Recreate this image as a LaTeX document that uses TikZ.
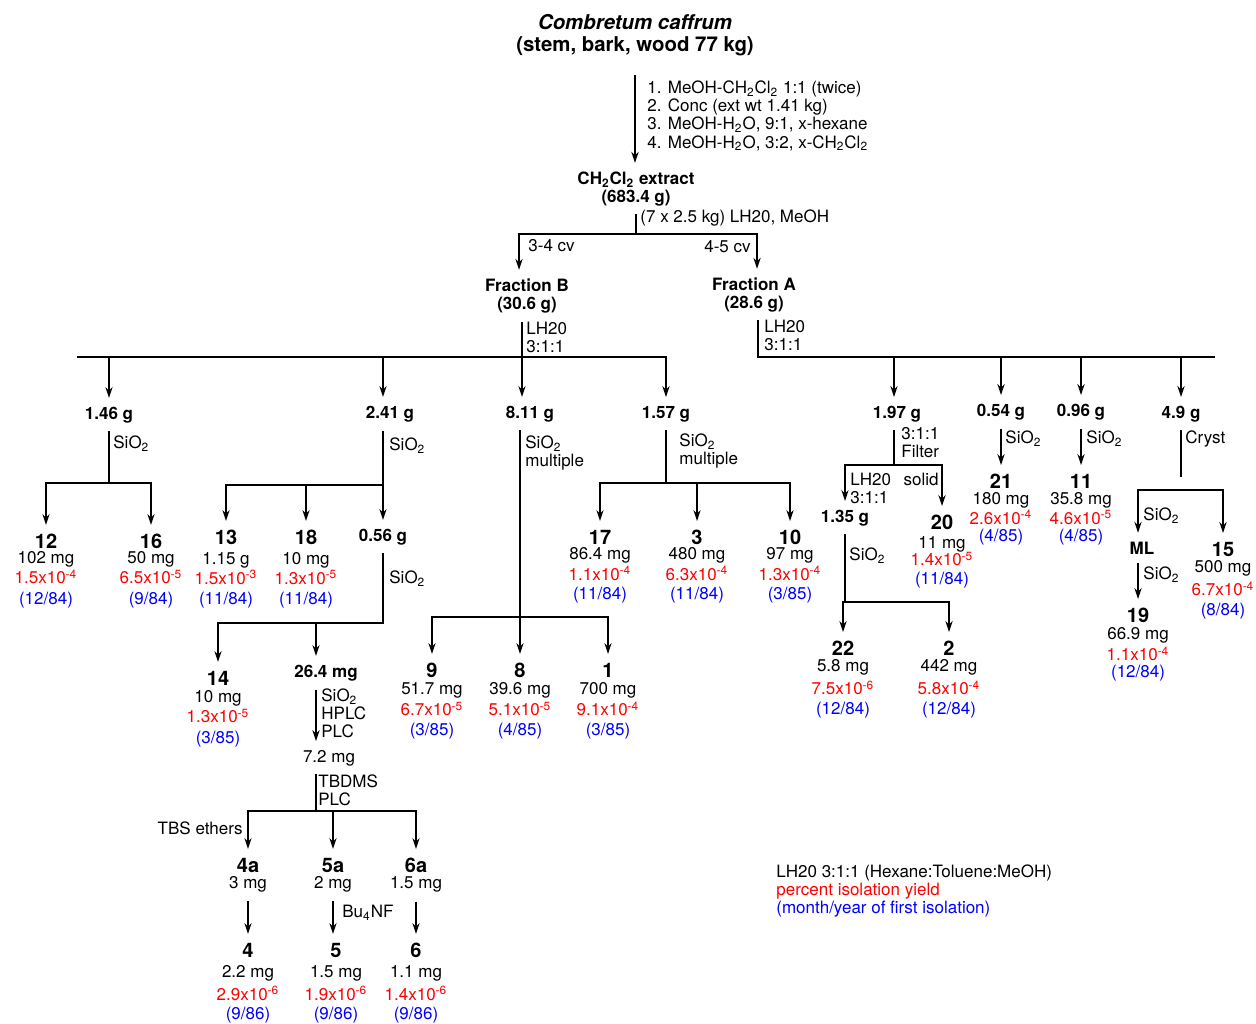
\documentclass[tikz,border=0pt]{standalone}
\usepackage{fontspec}
\setmainfont{TeX Gyre Heros}
\usepackage{xcolor}
\usetikzlibrary{arrows.meta}

\newcommand{\chcl}{CH\textsubscript{2}Cl\textsubscript{2}}
\newcommand{\sio}{SiO\textsubscript{2}}
\newcommand{\cnum}[1]{{\fontsize{10}{10}\selectfont\bfseries #1}}
\newcommand{\yld}[2]{\textcolor{red}{#1x10\textsuperscript{-#2}}}
\newcommand{\dte}[1]{\textcolor{blue}{(#1)}}

\begin{document}
\begin{tikzpicture}[
x=0.5pt, y=-0.5pt,
txt/.style={inner sep=0pt, outer ysep=4.5pt, align=center, font=\fontsize{8.5}{10}\selectfont},
wt/.style={txt, font=\fontsize{8.5}{9}\selectfont\bfseries},
cmpd/.style={txt, anchor=north},
lbl/.style={inner sep=0pt, anchor=west, align=left, font=\fontsize{8.5}{9}\selectfont},
arrow/.style={-{Stealth[length=5.5pt, width=3.6pt]}, line width=1pt},
conn/.style={line width=1pt, line cap=rect},
thinconn/.style={line width=0.6pt, line cap=rect}
]
\useasboundingbox (0,0) rectangle (1256,1023);

\node[txt, font=\fontsize{10.2}{11}\selectfont\bfseries] (plant) at (635,35) {\textit{Combretum caffrum}\\(stem, bark, wood 77 kg)};
\node[lbl, anchor=north west, font=\fontsize{8.5}{9.15}\selectfont] (cond_ext) at (647,80) {1. MeOH-\chcl{} 1:1 (twice)\\2. Conc (ext wt 1.41 kg)\\3. MeOH-H\textsubscript{2}O, 9:1, x-hexane\\4. MeOH-H\textsubscript{2}O, 3:2, x-\chcl};
\node[wt] (extract) at (636,189) {\chcl{} extract\\(683.4 g)};
\draw[arrow, shorten <=5pt] (plant) -- (plant |- extract.north);

\coordinate (split_b) at (519,234);
\coordinate (split_a) at (757,234);
\node[lbl] (cond_sep) at (640,218) {(7 x 2.5 kg) LH20, MeOH};
\node[lbl] (cv_b) at (528,246) {3-4 cv};
\node[lbl, anchor=east] (cv_a) at (751,247) {4-5 cv};
\node[wt] (frac_b) at (527,296) {Fraction B\\(30.6 g)};
\node[wt] (frac_a) at (754,295) {Fraction A\\(28.6 g)};
\draw[conn] (extract) -- (extract |- split_b);
\draw[conn] (split_b) -- (split_a);
\draw[arrow] (split_b) -- (split_b |- frac_b.north);
\draw[arrow] (split_a) -- (split_a |- frac_a.north);

\coordinate (bar_b) at (522,357);
\coordinate (bar_b_end) at (78,357);
\coordinate (bar_a) at (758,357);
\coordinate (bar_a_end) at (1214,357);
\node[lbl] (cond_b) at (526,337) {LH20\\3:1:1};
\node[lbl] (cond_a) at (764,335) {LH20\\3:1:1};

\node[wt] (w146) at (109,415) {1.46 g};
\node[wt] (w241) at (390,414) {2.41 g};
\node[wt] (w811) at (530,414) {8.11 g};
\node[wt] (w157) at (666,414) {1.57 g};
\node[wt] (w197) at (897,414) {1.97 g};
\node[wt] (w054) at (1001,412) {0.54 g};
\node[wt] (w096) at (1081,412) {0.96 g};
\node[wt] (w49) at (1181,414) {4.9 g};
\node[wt] (w056) at (383,537) {0.56 g};

\draw[conn] (bar_b_end) -- (w157 |- bar_b);
\draw[arrow] (frac_b.south -| bar_b) -- (w811.north -| bar_b);
\draw[arrow] (w146 |- bar_b) -- (w146);
\draw[arrow] (w056 |- bar_b) -- (w241.north -| w056);
\draw[arrow] (w157 |- bar_b) -- (w157);
\draw[conn] (frac_a.south -| bar_a) -- (bar_a) -- (bar_a_end);
\coordinate (bar197) at (894,465);
\draw[arrow] (bar197 |- bar_a) -- (w197.north -| bar197);
\draw[arrow] (w054 |- bar_a) -- (w054);
\draw[arrow] (w096 |- bar_a) -- (w096);
\draw[arrow] (w49 |- bar_a) -- (w49);

\coordinate (bar146) at (108,483);
\node[lbl] (cond_146) at (113,444) {\sio};
\node[cmpd] (c12) at (46,525) {\cnum{12}\\[-2.25pt]102 mg\\\yld{1.5}{4}\\[0.5pt]\dte{12/84}};
\node[cmpd] (c16) at (151,525) {\cnum{16}\\[-2.25pt]50 mg\\\yld{6.5}{5}\\[0.5pt]\dte{9/84}};
\draw[conn] (w146) -- (w146 |- bar146);
\draw[conn] (c12 |- bar146) -- (c16 |- bar146);
\draw[arrow] (c12 |- bar146) -- (c12);
\draw[arrow] (c16 |- bar146) -- (c16);

\coordinate (bar241) at (383,485);
\node[lbl] (cond_241) at (389,446) {\sio};
\node[cmpd] (c13) at (226,521) {\cnum{13}\\1.15 g\\\yld{1.5}{3}\\\dte{11/84}};
\node[cmpd] (c18) at (306,521) {\cnum{18}\\10 mg\\\yld{1.3}{5}\\\dte{11/84}};
\draw[arrow] (w241.south -| w056) -- (w056);
\draw[thinconn] (c13 |- bar241) -- (bar241);
\draw[arrow] (c13 |- bar241) -- (c13);
\draw[arrow] (c18 |- bar241) -- (c18);

\coordinate (bar056) at (384,623);
\coordinate (col264) at (316,623);
\node[lbl] (cond_056) at (389,579) {\sio};
\node[cmpd] (c14) at (218,662) {\cnum{14}\\[-1.25pt]10 mg\\\yld{1.3}{5}\\[0.5pt]\dte{3/85}};
\node[wt] (w264) at (326,673) {26.4 mg};
\node[lbl] (cond_264) at (321,713) {\sio\\HPLC\\PLC};
\node[txt] (w72) at (329,758) {7.2 mg};
\draw[conn] (w056) -- (w056 |- bar056) -- (c14 |- bar056);
\draw[arrow] (c14 |- bar056) -- (c14);
\draw[arrow] (col264) -- (w264.north -| col264);
\draw[arrow] (w264.south -| col264) -- (w72.north -| col264);

\coordinate (bar72) at (316,811);
\node[lbl] (cond_72) at (318,790) {TBDMS\\PLC};
\node[lbl, anchor=east] (tbs) at (243,828) {TBS ethers};
\node[cmpd] (c4a) at (248,849) {\cnum{4a}\\[-1.75pt]3 mg};
\node[cmpd] (c5a) at (333,849) {\cnum{5a}\\[-1.75pt]2 mg};
\node[cmpd] (c6a) at (416,849) {\cnum{6a}\\[-1.75pt]1.5 mg};
\node[cmpd] (c4) at (248,934) {\cnum{4}\\2.2 mg\\[1.5pt]\yld{2.9}{6}\\[-0.5pt]\dte{9/86}};
\node[cmpd] (c5) at (336,934) {\cnum{5}\\1.5 mg\\[1.5pt]\yld{1.9}{6}\\[-0.5pt]\dte{9/86}};
\node[cmpd] (c6) at (416,934) {\cnum{6}\\1.1 mg\\[1.5pt]\yld{1.4}{6}\\[-0.5pt]\dte{9/86}};
\node[lbl] (bu4nf) at (342,913) {Bu\textsubscript{4}NF};
\draw[conn] (w72.south -| bar72) -- (bar72);
\draw[conn] (c4a |- bar72) -- (c6a |- bar72);
\draw[arrow] (c4a |- bar72) -- (c4a);
\draw[arrow] (c5a |- bar72) -- (c5a);
\draw[arrow] (c6a |- bar72) -- (c6a);
\draw[arrow] (c4a) -- (c4a |- c4.north);
\draw[arrow] (c5a) -- (c5a |- c5.north);
\draw[arrow] (c6a) -- (c6a |- c6.north);

\coordinate (bar811) at (520,617);
\node[lbl] (cond_811) at (525,453) {\sio\\multiple};
\node[cmpd] (c9) at (432,654) {\cnum{9}\\[-1.25pt]51.7 mg\\[0.5pt]\yld{6.7}{5}\\\dte{3/85}};
\node[cmpd] (c8) at (520,654) {\cnum{8}\\[-1.25pt]39.6 mg\\[0.5pt]\yld{5.1}{5}\\\dte{4/85}};
\node[cmpd] (c1) at (608,654) {\cnum{1}\\[-1.25pt]700 mg\\[0.5pt]\yld{9.1}{4}\\\dte{3/85}};
\draw[conn] (w811.south -| bar811) -- (bar811);
\draw[conn] (c9 |- bar811) -- (c1 |- bar811);
\draw[arrow] (c9 |- bar811) -- (c9);
\draw[arrow] (c8 |- bar811) -- (c8);
\draw[arrow] (c1 |- bar811) -- (c1);

\coordinate (bar157) at (666,483);
\node[lbl] (cond_157) at (679,451) {\sio\\multiple};
\node[cmpd] (c17) at (600,521) {\cnum{17}\\[-2.5pt]86.4 mg\\[0.5pt]\yld{1.1}{4}\\[-0.5pt]\dte{11/84}};
\node[cmpd] (c3) at (697,521) {\cnum{3}\\[-2.5pt]480 mg\\[0.5pt]\yld{6.3}{4}\\[-0.5pt]\dte{11/84}};
\node[cmpd] (c10) at (790,521) {\cnum{10}\\[-2.5pt]97 mg\\[0.5pt]\yld{1.3}{4}\\[-0.5pt]\dte{3/85}};
\draw[conn] (w157) -- (w157 |- bar157);
\draw[conn] (c17 |- bar157) -- (c10 |- bar157);
\draw[arrow] (c17 |- bar157) -- (c17);
\draw[arrow] (c3 |- bar157) -- (c3);
\draw[arrow] (c10 |- bar157) -- (c10);

\node[lbl] (cond_197) at (901,443) {3:1:1\\Filter};
\node[wt] (w135) at (845,518) {1.35 g};
\node[lbl] (cond_135a) at (850,488) {LH20\\3:1:1};
\node[lbl, anchor=east] (solid) at (939,479) {solid};
\node[cmpd] (c20) at (942,506) {\cnum{20}\\[-0.25pt]11 mg\\[-1.5pt]\yld{1.4}{5}\\[-0.5pt]\dte{11/84}};
\draw[conn] (w197.south -| bar197) -- (bar197);
\draw[conn] (w135 |- bar197) -- (c20 |- bar197);
\draw[arrow] (w135 |- bar197) -- (w135);
\draw[arrow] (c20 |- bar197) -- (c20);

\coordinate (bar135) at (845,602);
\node[lbl] (cond_135) at (849,556) {\sio};
\node[cmpd] (c22) at (843,632) {\cnum{22}\\[-1.75pt]5.8 mg\\[1.5pt]\yld{7.5}{6}\\\dte{12/84}};
\node[cmpd] (c2) at (949,632) {\cnum{2}\\[-1.75pt]442 mg\\[1.5pt]\yld{5.8}{4}\\\dte{12/84}};
\draw[thinconn] (w135) -- (w135 |- bar135);
\draw[conn] (c22 |- bar135) -- (c2 |- bar135);
\draw[arrow] (c22 |- bar135) -- (c22);
\draw[arrow] (c2 |- bar135) -- (c2);

\node[lbl] (cond_054) at (1005,439) {\sio};
\node[cmpd] (c21) at (1001,465) {\cnum{21}\\[-2pt]180 mg\\[0pt]\yld{2.6}{4}\\[-1.5pt]\dte{4/85}};
\node[lbl] (cond_096) at (1086,439) {\sio};
\node[cmpd] (c11) at (1081,465) {\cnum{11}\\[-2pt]35.8 mg\\[0pt]\yld{4.6}{5}\\[-1.5pt]\dte{4/85}};
\draw[arrow] (w054) -- (c21);
\draw[arrow] (w096) -- (c11);

\coordinate (cryst_end) at (1181,476);
\coordinate (bar49) at (1181,490);
\node[lbl] (cond_49) at (1185,439) {Cryst};
\node[wt] (ml) at (1142,548) {ML};
\node[lbl] (cond_ml) at (1143,516) {\sio};
\node[lbl] (cond_19) at (1143,575) {\sio};
\node[cmpd] (c19) at (1138,599) {\cnum{19}\\[-1.25pt]66.9 mg\\[0.5pt]\yld{1.1}{4}\\[-1.5pt]\dte{12/84}};
\node[cmpd] (c15) at (1223,533) {\cnum{15}\\[-1.75pt]500 mg\\[1.5pt]\yld{6.7}{4}\\\dte{8/84}};
\draw[conn] (w49) -- (cryst_end);
\draw[conn] (c19 |- bar49) -- (c15 |- bar49);
\draw[arrow] (c19 |- bar49) -- (ml.north -| c19);
\draw[arrow] (c15 |- bar49) -- (c15);
\draw[arrow] (ml.south -| c19) -- (c19);

\node[lbl, anchor=north west] (legend) at (776,864) {LH20 3:1:1 (Hexane:Toluene:MeOH)\\\textcolor{red}{percent isolation yield}\\\textcolor{blue}{(month/year of first isolation)}};

\end{tikzpicture}
\end{document}
